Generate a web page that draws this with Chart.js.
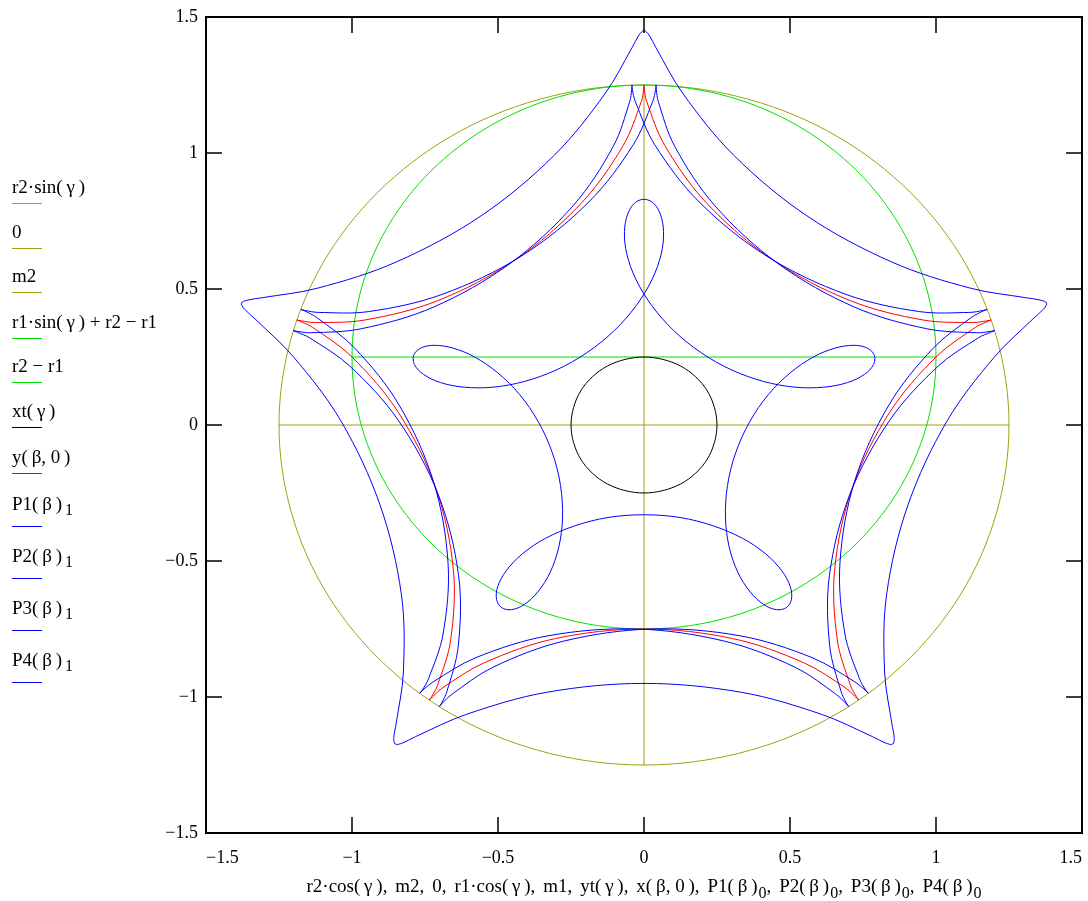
<!DOCTYPE html>
<html>
<head>
<meta charset="utf-8">
<style>
html,body{margin:0;padding:0;background:#fff;}
canvas{display:block;}
</style>
<script src="https://cdn.jsdelivr.net/npm/chart.js@4.4.1/dist/chart.umd.min.js"></script>
</head>
<body>
<canvas id="c" width="1088" height="901" style="width:1088px;height:901px"></canvas>
<script>
// ---------- tick labels ----------
const xTickValues = [-1.5, -1, -0.5, 0, 0.5, 1, 1.5];
const yTickValues = [-1.5, -1, -0.5, 0, 0.5, 1, 1.5];

// ---------- series names (legend) ----------
const seriesNames = ['r2·sin(\u2009γ\u2009)', '0', 'm2', 'r1·sin(\u2009γ\u2009) + r2 − r1', 'r2 − r1', 'xt(\u2009γ\u2009)', 'y(\u2009β, 0\u2009)', 'P1(\u2009β\u2009)', 'P2(\u2009β\u2009)', 'P3(\u2009β\u2009)', 'P4(\u2009β\u2009)'];
const seriesSubs = ['', '', '', '', '', '', '', '1', '1', '1', '1'];

// ---------- data (x, y) ----------
// r2 circle (olive), closed
const r2Circle = [[1.25,0],[1.207,0.324],[1.083,0.625],[0.884,0.884],[0.625,1.083],[0.324,1.207],[0,1.25],[-0.324,1.207],[-0.625,1.083],[-0.884,0.884],[-1.083,0.625],[-1.207,0.324],[-1.25,0],[-1.207,-0.324],[-1.083,-0.625],[-0.884,-0.884],[-0.625,-1.083],[-0.324,-1.207],[0,-1.25],[0.324,-1.207],[0.625,-1.083],[0.884,-0.884],[1.083,-0.625],[1.207,-0.324]];
// 0 vs m2 (olive horizontal)
const zeroLine = [[-1.25,0],[1.25,0]];
// m2 vs 0 (olive vertical)
const m2Line = [[0,-1.25],[0,1.25]];
// r1 circle (green), closed
const r1Circle = [[1,0.25],[0.966,0.509],[0.866,0.75],[0.707,0.957],[0.5,1.116],[0.259,1.216],[0,1.25],[-0.259,1.216],[-0.5,1.116],[-0.707,0.957],[-0.866,0.75],[-0.966,0.509],[-1,0.25],[-0.966,-0.009],[-0.866,-0.25],[-0.707,-0.457],[-0.5,-0.616],[-0.259,-0.716],[0,-0.75],[0.259,-0.716],[0.5,-0.616],[0.707,-0.457],[0.866,-0.25],[0.966,-0.009]];
// r2 - r1 vs m1 (green horizontal)
const m1Line = [[-1,0.25],[1,0.25]];
// xt circle (black), closed
const xtCircle = [[0.25,0],[0.241,0.065],[0.217,0.125],[0.177,0.177],[0.125,0.217],[0.065,0.241],[0,0.25],[-0.065,0.241],[-0.125,0.217],[-0.177,0.177],[-0.217,0.125],[-0.241,0.065],[-0.25,0],[-0.241,-0.065],[-0.217,-0.125],[-0.177,-0.177],[-0.125,-0.217],[-0.065,-0.241],[0,-0.25],[0.065,-0.241],[0.125,-0.217],[0.177,-0.177],[0.217,-0.125],[0.241,-0.065]];
// y(beta,0) (red), five arcs between cusps
const redY = [
 [0,1.25],[0.001,1.235],[0.009,1.190],[0.071,1.028],[0.216,0.814],[0.441,0.607],[0.707,0.457],[0.956,0.386],[1.129,0.377],[1.174,0.383],[1.189,0.386], null,
 [1.189,0.386],[1.175,0.380],[1.135,0.359],[1.000,0.250],[0.841,0.046],[0.713,-0.232],[0.653,-0.531],[0.662,-0.790],[0.707,-0.957],[0.727,-0.998],[0.735,-1.011], null,
 [0.735,-1.011],[0.725,-1.000],[0.692,-0.968],[0.547,-0.874],[0.303,-0.785],[0,-0.750],[-0.303,-0.785],[-0.547,-0.874],[-0.692,-0.968],[-0.725,-1.000],[-0.735,-1.011], null,
 [-0.735,-1.011],[-0.727,-0.998],[-0.707,-0.957],[-0.662,-0.790],[-0.653,-0.531],[-0.713,-0.232],[-0.841,0.046],[-1.000,0.250],[-1.135,0.359],[-1.175,0.380],[-1.189,0.386], null,
 [-1.189,0.386],[-1.174,0.383],[-1.129,0.377],[-0.956,0.386],[-0.707,0.457],[-0.441,0.607],[-0.216,0.814],[-0.071,1.028],[-0.009,1.190],[-0.001,1.235],[0,1.25]
];
// P1(beta) (blue)
const P1 = [
 [-0.041,1.249],[-0.040,1.234],[-0.030,1.190],[0.037,1.030],[0.189,0.820],[0.420,0.621],[0.692,0.480],[0.943,0.417],[1.116,0.414],[1.161,0.421],[1.175,0.425], null,
 [1.175,0.425],[1.161,0.419],[1.122,0.396],[0.991,0.283],[0.839,0.074],[0.721,-0.208],[0.671,-0.509],[0.688,-0.768],[0.738,-0.933],[0.759,-0.974],[0.768,-0.986], null,
 [0.768,-0.986],[0.758,-0.975],[0.723,-0.945],[0.575,-0.855],[0.329,-0.775],[0.025,-0.750],[-0.277,-0.795],[-0.518,-0.891],[-0.659,-0.991],[-0.691,-1.023],[-0.701,-1.035], null,
 [-0.701,-1.035],[-0.693,-1.022],[-0.675,-0.980],[-0.636,-0.812],[-0.635,-0.553],[-0.705,-0.255],[-0.842,0.018],[-1.008,0.217],[-1.146,0.321],[-1.187,0.341],[-1.201,0.347], null,
 [-1.201,0.347],[-1.186,0.344],[-1.141,0.339],[-0.968,0.354],[-0.722,0.433],[-0.461,0.592],[-0.243,0.806],[-0.105,1.025],[-0.049,1.189],[-0.042,1.234],[-0.041,1.249]
];
// P2(beta) (blue)
const P2 = [
 [0.041,1.249],[0.040,1.234],[0.030,1.190],[-0.037,1.030],[-0.189,0.820],[-0.420,0.621],[-0.692,0.480],[-0.943,0.417],[-1.116,0.414],[-1.161,0.421],[-1.175,0.425], null,
 [-1.175,0.425],[-1.161,0.419],[-1.122,0.396],[-0.991,0.283],[-0.839,0.074],[-0.721,-0.208],[-0.671,-0.509],[-0.688,-0.768],[-0.738,-0.933],[-0.759,-0.974],[-0.768,-0.986], null,
 [-0.768,-0.986],[-0.758,-0.975],[-0.723,-0.945],[-0.575,-0.855],[-0.329,-0.775],[-0.025,-0.750],[0.277,-0.795],[0.518,-0.891],[0.659,-0.991],[0.691,-1.023],[0.701,-1.035], null,
 [0.701,-1.035],[0.693,-1.022],[0.675,-0.980],[0.636,-0.812],[0.635,-0.553],[0.705,-0.255],[0.842,0.018],[1.008,0.217],[1.146,0.321],[1.187,0.341],[1.201,0.347], null,
 [1.201,0.347],[1.186,0.344],[1.141,0.339],[0.968,0.354],[0.722,0.433],[0.461,0.592],[0.243,0.806],[0.105,1.025],[0.049,1.189],[0.042,1.234],[0.041,1.249]
];
// P3(beta) (blue), closed outer star
const P3 = [[0,1.45],[0.017,1.434],[0.041,1.387],[0.133,1.219],[0.307,0.992],[0.558,0.769],[0.849,0.599],[1.118,0.503],[1.307,0.468],[1.359,0.459],[1.379,0.448],[1.369,0.427],[1.332,0.390],[1.2,0.25],[1.038,0.015],[0.904,-0.294],[0.831,-0.622],[0.824,-0.908],[0.849,-1.099],[0.857,-1.150],[0.852,-1.173],[0.829,-1.170],[0.783,-1.146],[0.609,-1.064],[0.335,-0.983],[0,-0.95],[-0.335,-0.983],[-0.609,-1.064],[-0.783,-1.146],[-0.829,-1.170],[-0.852,-1.173],[-0.857,-1.150],[-0.849,-1.099],[-0.824,-0.908],[-0.831,-0.622],[-0.904,-0.294],[-1.038,0.015],[-1.2,0.25],[-1.332,0.390],[-1.369,0.427],[-1.379,0.448],[-1.359,0.459],[-1.307,0.468],[-1.118,0.503],[-0.849,0.599],[-0.558,0.769],[-0.307,0.992],[-0.133,1.219],[-0.041,1.387],[-0.017,1.434]];
// P4(beta) (blue), closed inner loops
const P4 = [[0,0.83],[-0.032,0.816],[-0.056,0.775],[-0.067,0.711],[-0.059,0.629],[-0.028,0.536],[0.026,0.440],[0.101,0.348],[0.194,0.267],[0.299,0.203],[0.410,0.160],[0.518,0.139],[0.616,0.139],[0.697,0.156],[0.755,0.186],[0.786,0.222],[0.789,0.256],[0.766,0.282],[0.720,0.293],[0.655,0.283],[0.580,0.250],[0.501,0.192],[0.426,0.112],[0.362,0.012],[0.314,-0.102],[0.286,-0.222],[0.279,-0.341],[0.292,-0.450],[0.322,-0.543],[0.364,-0.614],[0.410,-0.660],[0.454,-0.679],[0.488,-0.671],[0.505,-0.641],[0.501,-0.594],[0.472,-0.536],[0.417,-0.474],[0.338,-0.417],[0.238,-0.371],[0.123,-0.340],[0,-0.33],[-0.123,-0.340],[-0.238,-0.371],[-0.338,-0.417],[-0.417,-0.474],[-0.472,-0.536],[-0.501,-0.594],[-0.505,-0.641],[-0.488,-0.671],[-0.454,-0.679],[-0.410,-0.660],[-0.364,-0.614],[-0.322,-0.543],[-0.292,-0.450],[-0.279,-0.341],[-0.286,-0.222],[-0.314,-0.102],[-0.362,0.012],[-0.426,0.112],[-0.501,0.192],[-0.580,0.250],[-0.655,0.283],[-0.720,0.293],[-0.766,0.282],[-0.789,0.256],[-0.786,0.222],[-0.755,0.186],[-0.697,0.156],[-0.616,0.139],[-0.518,0.139],[-0.410,0.160],[-0.299,0.203],[-0.194,0.267],[-0.101,0.348],[-0.026,0.440],[0.028,0.536],[0.059,0.629],[0.067,0.711],[0.056,0.775],[0.032,0.816]];

// ---------- styles ----------
const OLIVE = '#a0a010', GREEN = '#00e000', BLACK = '#000000', RED = '#ff0000', BLUE = '#0000ff';
const seriesColors = [OLIVE, OLIVE, OLIVE, GREEN, GREEN, BLACK, RED, BLUE, BLUE, BLUE, BLUE];
const FONT = '"Liberation Serif", "Times New Roman", serif';

// ---------- build datasets ----------
const toXY = arr => arr.map(p => p ? {x: p[0], y: p[1]} : {x: null, y: null});
const closedXY = arr => toXY([arr[arr.length - 1], ...arr, arr[0], arr[1]]);

const traces = [
  {data: closedXY(r2Circle), closed: true},
  {data: toXY(zeroLine)},
  {data: toXY(m2Line)},
  {data: closedXY(r1Circle), closed: true},
  {data: toXY(m1Line)},
  {data: closedXY(xtCircle), closed: true},
  {data: toXY(redY)},
  {data: toXY(P1)},
  {data: toXY(P2)},
  {data: closedXY(P3), closed: true},
  {data: closedXY(P4), closed: true}
];

const datasets = traces.map((t, i) => {
  const color = seriesColors[i];
  const n = t.data.length;
  const ds = {
    label: seriesNames[i],
    data: t.data,
    showLine: true,
    borderColor: color,
    backgroundColor: color,
    borderWidth: 1,
    pointRadius: 0,
    pointHoverRadius: 0,
    pointHitRadius: 0,
    tension: 0.34,
    fill: false,
    spanGaps: false,
    order: 20 - i
  };
  if (t.closed) {
    ds.segment = {
      borderColor: c => (c.p0DataIndex === 0 || c.p1DataIndex === n - 1) ? 'rgba(0,0,0,0)' : color
    };
  }
  return ds;
});

const fmt = v => (v < 0 ? '\u2212' + String(-v) : String(v));

// ---------- plugins ----------
const framePlugin = {
  id: 'frame',
  afterDatasetsDraw(chart) {
    const {ctx, chartArea: a, scales: {x, y}} = chart;
    ctx.save();
    ctx.strokeStyle = '#000';
    ctx.lineWidth = 2;
    ctx.strokeRect(a.left, a.top, a.right - a.left, a.bottom - a.top);
    ctx.lineWidth = 1.5;
    ctx.beginPath();
    xTickValues.forEach(v => {
      const px = x.getPixelForValue(v);
      ctx.moveTo(px, a.bottom); ctx.lineTo(px, a.bottom - 16);
      ctx.moveTo(px, a.top); ctx.lineTo(px, a.top + 16);
    });
    yTickValues.forEach(v => {
      const py = y.getPixelForValue(v);
      ctx.moveTo(a.left, py); ctx.lineTo(a.left + 16, py);
      ctx.moveTo(a.right, py); ctx.lineTo(a.right - 16, py);
    });
    ctx.stroke();
    ctx.restore();
  }
};

const legendLineY = [203, 248, 292, 338, 382, 427, 473, 526, 578, 630, 682];

const titleRuns = [
  ['r2·cos(\u2009γ\u2009)', 0], [', ', 2], ['m2', 0], [', ', 2], ['0', 0], [', ', 2],
  ['r1·cos(\u2009γ\u2009)', 0], [', ', 2], ['m1', 0], [', ', 2], ['yt(\u2009γ\u2009)', 0], [', ', 2],
  ['x(\u2009β, 0\u2009)', 0], [', ', 2], ['P1(\u2009β\u2009)', 0], ['0', 1], [', ', 2],
  ['P2(\u2009β\u2009)', 0], ['0', 1], [', ', 2], ['P3(\u2009β\u2009)', 0], ['0', 1], [', ', 2],
  ['P4(\u2009β\u2009)', 0], ['0', 1]
];

const textPlugin = {
  id: 'mathcadText',
  afterDraw(chart) {
    const {ctx, chartArea: a} = chart;
    const mainF = '19px ' + FONT, subF = '16px ' + FONT;
    ctx.save();
    ctx.fillStyle = '#000';
    ctx.textBaseline = 'alphabetic';
    ctx.textAlign = 'left';
    // legend
    seriesNames.forEach((name, i) => {
      const ly = legendLineY[i];
      const hasSub = seriesSubs[i] !== '';
      const base = hasSub ? ly - 16 : ly - 10;
      ctx.font = mainF;
      ctx.fillText(name, 12, base);
      if (hasSub) {
        const w = ctx.measureText(name).width;
        ctx.font = subF;
        ctx.fillText(seriesSubs[i], 12 + w + 3, base + 5);
      }
      ctx.strokeStyle = seriesColors[i];
      ctx.lineWidth = 1;
      ctx.beginPath();
      ctx.moveTo(12, ly + 0.5);
      ctx.lineTo(42, ly + 0.5);
      ctx.stroke();
    });
    // x-axis title
    let W = 0, seps = 0;
    titleRuns.forEach(([t, k]) => {
      ctx.font = k === 1 ? subF : mainF;
      W += ctx.measureText(t).width + (k === 1 ? 1 : 0);
      if (k === 2) seps++;
    });
    const target = 675;
    const extra = Math.max(0, (target - W) / seps);
    const total = W + extra * seps;
    let x = (a.left + a.right) / 2 - total / 2;
    const base = 892;
    titleRuns.forEach(([t, k]) => {
      ctx.font = k === 1 ? subF : mainF;
      if (k === 1) x += 1;
      ctx.fillText(t, x, k === 1 ? base + 6 : base);
      x += ctx.measureText(t).width + (k === 2 ? extra : 0);
    });
    ctx.restore();
  }
};

// ---------- chart ----------
Chart.defaults.font.family = FONT;
new Chart(document.getElementById('c'), {
  type: 'scatter',
  data: {datasets},
  options: {
    responsive: false,
    animation: false,
    events: [],
    layout: {padding: {left: 0, top: 17, right: 6, bottom: 0}},
    plugins: {legend: {display: false}, tooltip: {enabled: false}, title: {display: false}},
    scales: {
      x: {
        type: 'linear', position: 'bottom', min: -1.5, max: 1.5,
        grid: {display: false, drawTicks: false},
        border: {display: false},
        afterBuildTicks: s => { s.ticks = xTickValues.map(v => ({value: v})); },
        ticks: {align: 'inner', padding: 14, color: '#000', font: {family: FONT, size: 18}, callback: fmt, maxRotation: 0, autoSkip: false},
        afterFit: s => { s.height = 68; s.paddingLeft = 0; s.paddingRight = 0; }
      },
      y: {
        type: 'linear', position: 'left', min: -1.5, max: 1.5,
        grid: {display: false, drawTicks: false},
        border: {display: false},
        afterBuildTicks: s => { s.ticks = yTickValues.map(v => ({value: v})); },
        ticks: {padding: 8, color: '#000', font: {family: FONT, size: 18}, callback: fmt, autoSkip: false},
        afterFit: s => { s.width = 206; s.paddingTop = 0; s.paddingBottom = 0; }
      }
    }
  },
  plugins: [framePlugin, textPlugin]
});
</script>
</body>
</html>
